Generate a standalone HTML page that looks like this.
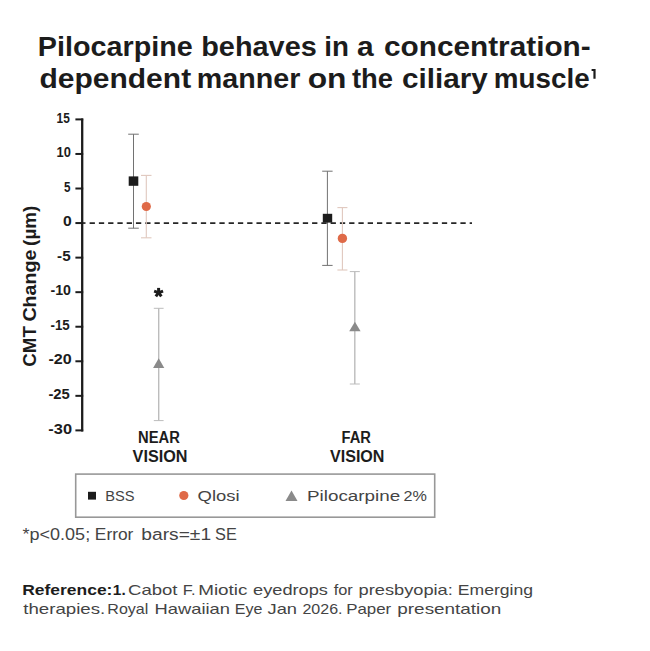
<!DOCTYPE html>
<html>
<head>
<meta charset="utf-8">
<title>Pilocarpine chart</title>
<style>
html,body{margin:0;padding:0;background:#fff;}
body{width:650px;height:651px;overflow:hidden;font-family:"Liberation Sans",sans-serif;}
svg{display:block;}
text{font-family:"Liberation Sans",sans-serif;}
</style>
</head>
<body>
<svg width="650" height="651" viewBox="0 0 650 651">
<rect x="0" y="0" width="650" height="651" fill="#ffffff"/>

<!-- Y axis -->
<g stroke="#1c1c1c" stroke-width="2" fill="none">
<line stroke-width="2.3" x1="82.2" y1="118.40" x2="82.2" y2="431.39"/>
<line x1="75.4" y1="119.40" x2="83.2" y2="119.40"/>
<line x1="75.4" y1="153.96" x2="83.2" y2="153.96"/>
<line x1="75.4" y1="188.51" x2="83.2" y2="188.51"/>
<line x1="75.4" y1="223.06" x2="83.2" y2="223.06"/>
<line x1="75.4" y1="257.62" x2="83.2" y2="257.62"/>
<line x1="75.4" y1="292.18" x2="83.2" y2="292.18"/>
<line x1="75.4" y1="326.73" x2="83.2" y2="326.73"/>
<line x1="75.4" y1="361.28" x2="83.2" y2="361.28"/>
<line x1="75.4" y1="395.84" x2="83.2" y2="395.84"/>
<line x1="75.4" y1="430.39" x2="83.2" y2="430.39"/>
</g>

<!-- Zero dashed line -->
<line x1="89.6" y1="223.06" x2="472" y2="223.06" stroke="#262626" stroke-width="1.7" stroke-dasharray="5.3 3.97"/>

<line x1="83" y1="223.06" x2="85.5" y2="223.06" stroke="#262626" stroke-width="1.7"/>
<!-- NEAR: BSS -->
<g stroke="#727272" stroke-width="1" fill="none">
<line x1="133.5" y1="134.2" x2="133.5" y2="228.2"/>
<line x1="128.2" y1="134.2" x2="138.8" y2="134.2"/>
<line x1="128.2" y1="228.2" x2="138.8" y2="228.2"/>
</g>
<!-- NEAR: Qlosi -->
<g stroke="#e0c8be" stroke-width="1.1" fill="none">
<line x1="146.3" y1="175.4" x2="146.3" y2="237.8"/>
<line x1="141" y1="175.4" x2="151.5" y2="175.4"/>
<line x1="141" y1="237.8" x2="151.5" y2="237.8"/>
</g>
<!-- NEAR: Pilocarpine -->
<g stroke="#bcbcbc" stroke-width="1.4" fill="none">
<line x1="158.7" y1="308.3" x2="158.7" y2="420.6"/>
<line stroke-width="1" x1="153.8" y1="308.3" x2="163.6" y2="308.3"/>
<line stroke-width="1" x1="153.8" y1="420.6" x2="163.6" y2="420.6"/>
</g>
<rect x="128.7" y="176.4" width="9.6" height="9.4" fill="#1c1c1c"/>
<circle cx="146.3" cy="206.5" r="4.6" fill="#df6a48"/>
<polygon points="158.7,358.3 164.3,367.9 153.1,367.9" fill="#8a8a8a"/>

<!-- asterisk -->
<g stroke="#1c1c1c" stroke-width="3" stroke-linecap="butt">
<line x1="158.6" y1="292.6" x2="158.6" y2="287.9"/>
<line x1="158.6" y1="292.6" x2="163.07" y2="291.15"/>
<line x1="158.6" y1="292.6" x2="161.36" y2="296.4"/>
<line x1="158.6" y1="292.6" x2="155.84" y2="296.4"/>
<line x1="158.6" y1="292.6" x2="154.13" y2="291.15"/>
</g>

<!-- FAR: BSS -->
<g stroke="#727272" stroke-width="1" fill="none">
<line x1="327.4" y1="171.2" x2="327.4" y2="265.4"/>
<line x1="322.2" y1="171.2" x2="332.6" y2="171.2"/>
<line x1="322.2" y1="265.4" x2="332.6" y2="265.4"/>
</g>
<!-- FAR: Qlosi -->
<g stroke="#e0c8be" stroke-width="1.1" fill="none">
<line x1="342.4" y1="207.6" x2="342.4" y2="270"/>
<line x1="337.4" y1="207.6" x2="347.4" y2="207.6"/>
<line x1="337.4" y1="270" x2="347.4" y2="270"/>
</g>
<!-- FAR: Pilocarpine -->
<g stroke="#bcbcbc" stroke-width="1.4" fill="none">
<line x1="354.8" y1="271.6" x2="354.8" y2="384"/>
<line stroke-width="1" x1="349.8" y1="271.6" x2="359.8" y2="271.6"/>
<line stroke-width="1" x1="349.8" y1="384" x2="359.8" y2="384"/>
</g>
<rect x="322.8" y="213.8" width="9.4" height="8.8" fill="#1c1c1c"/>
<circle cx="342.4" cy="238.4" r="4.7" fill="#df6a48"/>
<polygon points="354.9,321.8 360.6,331.2 349.2,331.2" fill="#8a8a8a"/>

<!-- Legend -->
<rect x="75.7" y="474.1" width="359" height="43.1" fill="#ffffff" stroke="#989898" stroke-width="1.6"/>
<rect x="88" y="491.8" width="8" height="7.8" fill="#1c1c1c"/>
<circle cx="183.8" cy="495.5" r="4.6" fill="#df6a48"/>
<polygon points="291.5,490.4 297.5,500.9 285.5,500.9" fill="#8a8a8a"/>

<!-- superscript 1 -->
<polygon points="593.4,69 595.6,69 595.6,78.7 593.4,78.7 593.4,71 591.6,71 591.6,69" fill="#1c1c1c"/>
<!-- Text -->
<text x="37.80" y="55.80" font-size="26.8" font-weight="700" fill="#1c1c1c" textLength="154.91" lengthAdjust="spacingAndGlyphs">Pilocarpine</text>
<text x="201.20" y="55.80" font-size="26.8" font-weight="700" fill="#1c1c1c" textLength="115.58" lengthAdjust="spacingAndGlyphs">behaves</text>
<text x="324.26" y="55.80" font-size="26.8" font-weight="700" fill="#1c1c1c" textLength="24.68" lengthAdjust="spacingAndGlyphs">in</text>
<text x="357.13" y="55.80" font-size="26.8" font-weight="700" fill="#1c1c1c" textLength="16.68" lengthAdjust="spacingAndGlyphs">a</text>
<text x="384.07" y="55.80" font-size="26.8" font-weight="700" fill="#1c1c1c" textLength="206.60" lengthAdjust="spacingAndGlyphs">concentration-</text>
<text x="39.46" y="87.80" font-size="26.8" font-weight="700" fill="#1c1c1c" textLength="151.68" lengthAdjust="spacingAndGlyphs">dependent</text>
<text x="196.81" y="87.80" font-size="26.8" font-weight="700" fill="#1c1c1c" textLength="103.60" lengthAdjust="spacingAndGlyphs">manner</text>
<text x="307.66" y="87.80" font-size="26.8" font-weight="700" fill="#1c1c1c" textLength="38.82" lengthAdjust="spacingAndGlyphs">on</text>
<text x="352.00" y="87.80" font-size="26.8" font-weight="700" fill="#1c1c1c" textLength="41.08" lengthAdjust="spacingAndGlyphs">the</text>
<text x="402.07" y="87.80" font-size="26.8" font-weight="700" fill="#1c1c1c" textLength="85.74" lengthAdjust="spacingAndGlyphs">ciliary</text>
<text x="493.86" y="87.80" font-size="26.8" font-weight="700" fill="#1c1c1c" textLength="95.83" lengthAdjust="spacingAndGlyphs">muscle</text>
<text x="56.56" y="122.60" font-size="15.0" font-weight="700" fill="#1c1c1c" textLength="13.24" lengthAdjust="spacingAndGlyphs">15</text>
<text x="56.59" y="157.16" font-size="15.0" font-weight="700" fill="#1c1c1c" textLength="14.33" lengthAdjust="spacingAndGlyphs">10</text>
<text x="64.12" y="191.71" font-size="15.0" font-weight="700" fill="#1c1c1c" textLength="6.47" lengthAdjust="spacingAndGlyphs">5</text>
<text x="62.91" y="226.26" font-size="15.0" font-weight="700" fill="#1c1c1c" textLength="8.73" lengthAdjust="spacingAndGlyphs">0</text>
<text x="57.12" y="260.82" font-size="15.0" font-weight="700" fill="#1c1c1c" textLength="13.56" lengthAdjust="spacingAndGlyphs">-5</text>
<text x="50.46" y="295.38" font-size="15.0" font-weight="700" fill="#1c1c1c" textLength="20.52" lengthAdjust="spacingAndGlyphs">-10</text>
<text x="50.48" y="329.93" font-size="15.0" font-weight="700" fill="#1c1c1c" textLength="19.25" lengthAdjust="spacingAndGlyphs">-15</text>
<text x="48.40" y="364.48" font-size="15.0" font-weight="700" fill="#1c1c1c" textLength="23.25" lengthAdjust="spacingAndGlyphs">-20</text>
<text x="48.44" y="399.04" font-size="15.0" font-weight="700" fill="#1c1c1c" textLength="21.43" lengthAdjust="spacingAndGlyphs">-25</text>
<text x="48.39" y="433.59" font-size="15.0" font-weight="700" fill="#1c1c1c" textLength="23.68" lengthAdjust="spacingAndGlyphs">-30</text>
<text transform="translate(36.2 366.2) rotate(-90)" x="-0.59" y="0" font-size="17.8" font-weight="700" fill="#1c1c1c" textLength="40.61" lengthAdjust="spacingAndGlyphs">CMT</text>
<text transform="translate(36.2 366.2) rotate(-90)" x="44.59" y="0" font-size="17.8" font-weight="700" fill="#1c1c1c" textLength="72.10" lengthAdjust="spacingAndGlyphs">Change</text>
<text transform="translate(36.2 366.2) rotate(-90)" x="120.32" y="0" font-size="17.8" font-weight="700" fill="#1c1c1c" textLength="40.16" lengthAdjust="spacingAndGlyphs">(µm)</text>
<text x="138.08" y="443.10" font-size="16.0" font-weight="700" fill="#1c1c1c" textLength="41.80" lengthAdjust="spacingAndGlyphs">NEAR</text>
<text x="132.60" y="462.30" font-size="16.0" font-weight="700" fill="#1c1c1c" textLength="54.87" lengthAdjust="spacingAndGlyphs">VISION</text>
<text x="341.48" y="443.10" font-size="16.0" font-weight="700" fill="#1c1c1c" textLength="29.40" lengthAdjust="spacingAndGlyphs">FAR</text>
<text x="330.00" y="462.30" font-size="16.0" font-weight="700" fill="#1c1c1c" textLength="54.46" lengthAdjust="spacingAndGlyphs">VISION</text>
<text x="105.15" y="501.30" font-size="15.3" fill="#444444" textLength="29.36" lengthAdjust="spacingAndGlyphs">BSS</text>
<text x="197.63" y="501.30" font-size="15.3" fill="#444444" textLength="42.08" lengthAdjust="spacingAndGlyphs">Qlosi</text>
<text x="307.03" y="501.30" font-size="15.3" fill="#444444" textLength="93.24" lengthAdjust="spacingAndGlyphs">Pilocarpine</text>
<text x="403.43" y="501.30" font-size="15.3" fill="#444444" textLength="23.37" lengthAdjust="spacingAndGlyphs">2%</text>
<text x="22.47" y="539.80" font-size="16.8" fill="#444444" textLength="67.68" lengthAdjust="spacingAndGlyphs">*p&lt;0.05;</text>
<text x="94.85" y="539.80" font-size="16.8" fill="#444444" textLength="38.54" lengthAdjust="spacingAndGlyphs">Error</text>
<text x="141.30" y="539.80" font-size="16.8" fill="#444444" textLength="69.78" lengthAdjust="spacingAndGlyphs">bars=±1</text>
<text x="215.02" y="539.80" font-size="16.8" fill="#444444" textLength="21.74" lengthAdjust="spacingAndGlyphs">SE</text>
<text x="22.21" y="595.00" font-size="14.5" font-weight="700" fill="#1c1c1c" textLength="90.24" lengthAdjust="spacingAndGlyphs">Reference:</text>
<text x="112.86" y="595.00" font-size="14.5" font-weight="700" fill="#1c1c1c" textLength="12.82" lengthAdjust="spacingAndGlyphs">1.</text>
<text x="128.03" y="595.00" font-size="14.5" fill="#444444" textLength="49.51" lengthAdjust="spacingAndGlyphs">Cabot</text>
<text x="182.79" y="595.00" font-size="14.5" fill="#444444" textLength="12.72" lengthAdjust="spacingAndGlyphs">F.</text>
<text x="198.23" y="595.00" font-size="14.5" fill="#444444" textLength="49.27" lengthAdjust="spacingAndGlyphs">Miotic</text>
<text x="253.03" y="595.00" font-size="14.5" fill="#444444" textLength="74.94" lengthAdjust="spacingAndGlyphs">eyedrops</text>
<text x="333.65" y="595.00" font-size="14.5" fill="#444444" textLength="19.08" lengthAdjust="spacingAndGlyphs">for</text>
<text x="358.56" y="595.00" font-size="14.5" fill="#444444" textLength="94.29" lengthAdjust="spacingAndGlyphs">presbyopia:</text>
<text x="457.83" y="595.00" font-size="14.5" fill="#444444" textLength="75.26" lengthAdjust="spacingAndGlyphs">Emerging</text>
<text x="23.30" y="614.40" font-size="14.5" fill="#444444" textLength="81.99" lengthAdjust="spacingAndGlyphs">therapies.</text>
<text x="107.36" y="614.40" font-size="14.5" fill="#444444" textLength="40.99" lengthAdjust="spacingAndGlyphs">Royal</text>
<text x="154.57" y="614.40" font-size="14.5" fill="#444444" textLength="75.46" lengthAdjust="spacingAndGlyphs">Hawaiian</text>
<text x="234.89" y="614.40" font-size="14.5" fill="#444444" textLength="27.63" lengthAdjust="spacingAndGlyphs">Eye</text>
<text x="267.51" y="614.40" font-size="14.5" fill="#444444" textLength="29.51" lengthAdjust="spacingAndGlyphs">Jan</text>
<text x="302.44" y="614.40" font-size="14.5" fill="#444444" textLength="40.12" lengthAdjust="spacingAndGlyphs">2026.</text>
<text x="346.18" y="614.40" font-size="14.5" fill="#444444" textLength="45.00" lengthAdjust="spacingAndGlyphs">Paper</text>
<text x="397.32" y="614.40" font-size="14.5" fill="#444444" textLength="104.04" lengthAdjust="spacingAndGlyphs">presentation</text>
</svg>
</body>
</html>
